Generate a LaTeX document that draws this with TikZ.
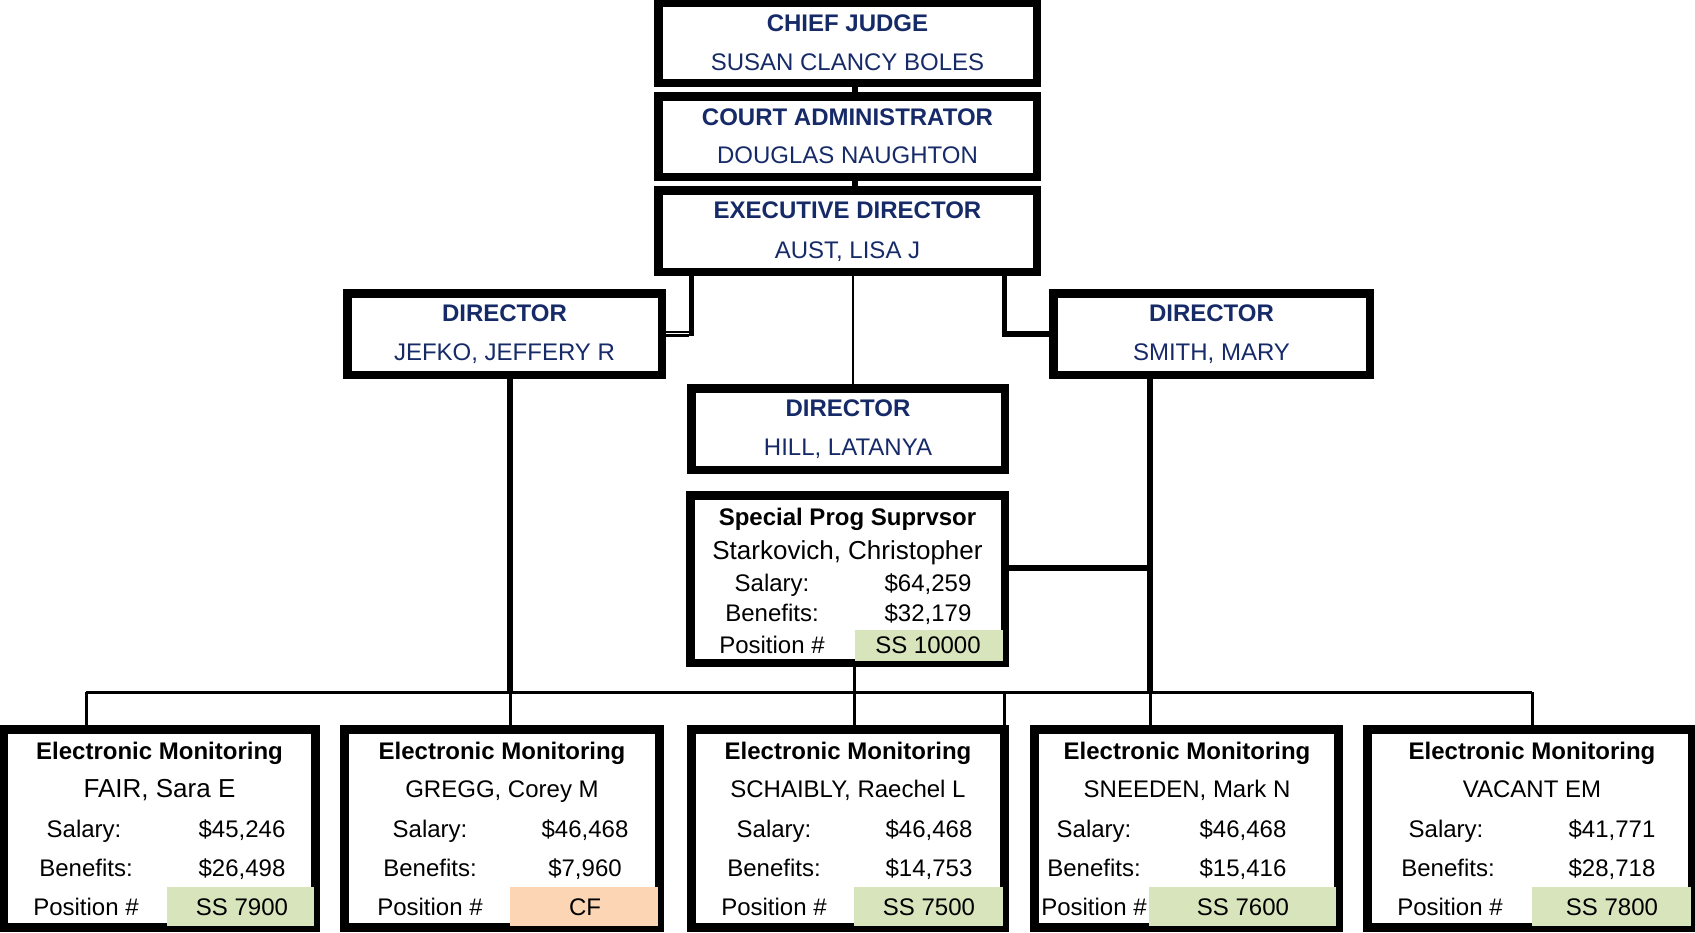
\documentclass[tikz,border=0pt]{standalone}
\usepackage{fontspec}
\setmainfont{Liberation Sans}
\definecolor{navy}{RGB}{22,42,104}
\definecolor{posgreen}{RGB}{216,228,188}
\definecolor{posorange}{RGB}{252,213,180}
\begin{document}
\begin{tikzpicture}[x=1pt,y=-1pt,
  topbox/.style={draw=black, line width=5.5pt, rectangle, inner sep=0pt, minimum width=375.5pt, minimum height=77.5pt},
  dirbox/.style={draw=black, line width=5.5pt, rectangle, inner sep=0pt, minimum height=78.5pt},
  embox/.style={draw=black, line width=6pt, rectangle, inner sep=0pt, minimum height=195pt},
  ttl/.style={anchor=base, inner sep=0pt, font=\fontsize{24}{28}\selectfont\bfseries},
  nm/.style={anchor=base, inner sep=0pt, font=\fontsize{24}{28}\selectfont},
  bignm/.style={anchor=base, inner sep=0pt, font=\fontsize{26}{30}\selectfont},
  thickc/.style={draw=black, line width=5.5pt},
  thinc/.style={draw=black, line width=3pt},
  hairc/.style={draw=black, line width=2pt},
  dblc/.style={draw=black, line width=2.2pt, double=white, double distance=1.6pt}
]
\useasboundingbox (0,0) rectangle (1695,932);

% ---------- box nodes (positions) ----------
\path (847.5,42.5) node[topbox] (chief) {};
\path (847.5,136.5) node[topbox] (court) {};
\path (847.5,231) node[topbox, minimum height=78.5pt] (exec) {};
\path (504.5,334) node[dirbox, minimum width=311.5pt] (jefko) {};
\path (1211.5,334) node[dirbox, minimum width=313.5pt] (smith) {};
\path (848,429) node[dirbox, minimum width=310.5pt] (hill) {};
\path (847.5,579) node[draw=black, line width=5.5pt, rectangle, inner sep=0pt, minimum width=311.5pt, minimum height=164.5pt] (spec) {};
\path (159.5,828.5) node[embox, minimum width=309pt] (fair) {};
\path (502,828.5) node[embox, minimum width=312pt] (gregg) {};
\path (848,828.5) node[embox, minimum width=310pt] (schaibly) {};
\path (1186.5,828.5) node[embox, minimum width=301pt] (sneeden) {};
\path (1530,828.5) node[embox, minimum width=322pt] (vacant) {};

% ---------- helper coordinates ----------
\coordinate (topx) at (855,0);
\coordinate (hillx) at (853,0);
\coordinate (jl) at (691.5,333.5);
\coordinate (sl) at (1004.5,0);
\coordinate (sh) at (1150,568);
\coordinate (b1) at (86,692);
\coordinate (b2) at (510,692);
\coordinate (b3) at (854,692);
\coordinate (b4) at (1004,692);
\coordinate (b5) at (1150,692);
\coordinate (b6) at (1532,692);

% ---------- connectors ----------
\draw[thickc] (chief.south -| topx) -- (court.north -| topx);
\draw[thickc] (court.south -| topx) -- (exec.north -| topx);
\draw[thickc] (exec.south -| jl) -- ([yshift=-2.7pt]jl);
\draw[dblc] ([xshift=-2.5pt]jl) -- (jl -| jefko.east);
\draw[hairc] (exec.south -| hillx) -- (hill.north -| hillx);
\draw[thickc, line join=miter] (exec.south -| sl) |- (smith.west);
\draw[thickc] (jefko.south -| b2) -- (b2);
\draw[thickc] (smith.south -| b5) -- (b5);
\draw[thickc] (spec.east |- sh) -- (sh);
\draw[thinc] (spec.south -| b3) -- (b3);
\draw[thinc] (b1) -- (b6);
\draw[thinc] (b1) -- (fair.north -| b1);
\draw[thinc] (b2) -- (gregg.north -| b2);
\draw[thinc] (b3) -- (schaibly.north -| b3);
\draw[thinc] (b4) -- (schaibly.north -| b4);
\draw[thinc] (b5) -- (sneeden.north -| b5);
\draw[thinc] (b6) -- (vacant.north -| b6);

% ---------- position cells ----------
\fill[posgreen] (855,630) rectangle (1003.25,661.25);
\fill[posgreen] (167,887) rectangle (314,926);
\fill[posorange] (510,887) rectangle (658,926);
\fill[posgreen] (854,887) rectangle (1003,926);
\fill[posgreen] (1149,887) rectangle (1336,926);
\fill[posgreen] (1532,887) rectangle (1691,926);

% ---------- redraw box borders on top ----------
\foreach \b/\w in {chief/5.5,court/5.5,exec/5.5,jefko/5.5,smith/5.5,hill/5.5,spec/5.5,fair/6,gregg/6,schaibly/6,sneeden/6,vacant/6}
  \draw[line width=\w pt] (\b.north west) rectangle (\b.south east);

% ---------- texts: top ----------
\node[ttl, text=navy] (chiefT) at (847.5,31.5) {CHIEF JUDGE};
\node[nm, text=navy] (chiefN) at (847.5,70) {SUSAN CLANCY BOLES};
\node[ttl, text=navy] (courtT) at (847.5,125) {COURT ADMINISTRATOR};
\node[nm, text=navy] (courtN) at (847.5,163) {DOUGLAS NAUGHTON};
\node[ttl, text=navy] (execT) at (847.5,218) {EXECUTIVE DIRECTOR};
\node[nm, text=navy] (execN) at (847.5,258) {AUST, LISA J};
\node[ttl, text=navy] (jefkoT) at (504.5,321) {DIRECTOR};
\node[nm, text=navy] (jefkoN) at (504.5,360) {JEFKO, JEFFERY R};
\node[ttl, text=navy] (smithT) at (1211.5,321) {DIRECTOR};
\node[nm, text=navy] (smithN) at (1211.5,360) {SMITH, MARY};
\node[ttl, text=navy] (hillT) at (848,416) {DIRECTOR};
\node[nm, text=navy] (hillN) at (848,455) {HILL, LATANYA};

% ---------- texts: special prog ----------
\node[ttl] (specT) at (847.5,525) {Special Prog Suprvsor};
\node[bignm] (specN) at (847.5,559) {Starkovich, Christopher};
\node[nm] (specSL) at (772,591.5) {Salary:};
\node[nm] (specSV) at (928,591.5) {\$64,259};
\node[nm] (specBL) at (772,621.5) {Benefits:};
\node[nm] (specBV) at (928,621.5) {\$32,179};
\node[nm] (specPL) at (772,653) {Position \#};
\node[nm] (specPV) at (928,653) {SS 10000};

% ---------- texts: bottom row ----------
% FAIR
\node[ttl] (fairT) at (159.5,759) {Electronic Monitoring};
\node[bignm] (fairN) at (159.5,797) {FAIR, Sara E};
\node[nm] (fairSL) at (84,837) {Salary:};
\node[nm] (fairSV) at (242,837) {\$45,246};
\node[nm] (fairBL) at (86,876) {Benefits:};
\node[nm] (fairBV) at (242,876) {\$26,498};
\node[nm] (fairPL) at (86,915) {Position \#};
\node[nm] (fairPV) at (242,915) {SS 7900};
% GREGG
\node[ttl] (greggT) at (502,759) {Electronic Monitoring};
\node[nm] (greggN) at (502,797) {GREGG, Corey M};
\node[nm] (greggSL) at (430,837) {Salary:};
\node[nm] (greggSV) at (585,837) {\$46,468};
\node[nm] (greggBL) at (430,876) {Benefits:};
\node[nm] (greggBV) at (585,876) {\$7,960};
\node[nm] (greggPL) at (430,915) {Position \#};
\node[nm] (greggPV) at (585,915) {CF};
% SCHAIBLY
\node[ttl] (schT) at (848,759) {Electronic Monitoring};
\node[nm] (schN) at (848,797) {SCHAIBLY, Raechel L};
\node[nm] (schSL) at (774,837) {Salary:};
\node[nm] (schSV) at (929,837) {\$46,468};
\node[nm] (schBL) at (774,876) {Benefits:};
\node[nm] (schBV) at (929,876) {\$14,753};
\node[nm] (schPL) at (774,915) {Position \#};
\node[nm] (schPV) at (929,915) {SS 7500};
% SNEEDEN
\node[ttl] (sneT) at (1187,759) {Electronic Monitoring};
\node[nm] (sneN) at (1187,797) {SNEEDEN, Mark N};
\node[nm] (sneSL) at (1094,837) {Salary:};
\node[nm] (sneSV) at (1243,837) {\$46,468};
\node[nm] (sneBL) at (1094,876) {Benefits:};
\node[nm] (sneBV) at (1243,876) {\$15,416};
\node[nm] (snePL) at (1094,915) {Position \#};
\node[nm] (snePV) at (1243,915) {SS 7600};
% VACANT
\node[ttl] (vacT) at (1532,759) {Electronic Monitoring};
\node[nm] (vacN) at (1532,797) {VACANT EM};
\node[nm] (vacSL) at (1446,837) {Salary:};
\node[nm] (vacSV) at (1612,837) {\$41,771};
\node[nm] (vacBL) at (1448,876) {Benefits:};
\node[nm] (vacBV) at (1612,876) {\$28,718};
\node[nm] (vacPL) at (1450,915) {Position \#};
\node[nm] (vacPV) at (1612,915) {SS 7800};
\end{tikzpicture}
\end{document}
